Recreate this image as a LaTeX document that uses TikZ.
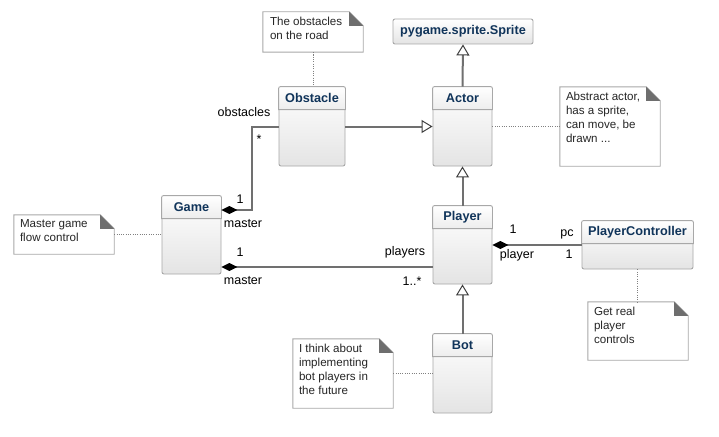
\documentclass[tikz,border=0pt]{standalone}
\usepackage{fontspec}
\setmainfont{Liberation Sans}
\usetikzlibrary{arrows.meta,calc}
\definecolor{clsborder}{HTML}{A8A8A8}
\definecolor{clsbottom}{HTML}{E4E4E4}
\definecolor{hdrbottom}{HTML}{EDEDED}
\definecolor{titlecol}{HTML}{10345A}
\definecolor{conncol}{HTML}{707070}
\definecolor{notebord}{HTML}{A8A8A8}
\definecolor{foldcol}{HTML}{6E6E6E}
\definecolor{dotcol}{HTML}{808080}
\tikzset{
  cls/.style={draw=clsborder, line width=0.9pt, rounded corners=2pt, top color=white, bottom color=clsbottom, inner sep=0pt},
  clstitle/.style={font=\fontsize{12.7}{14}\selectfont\bfseries, text=titlecol, inner sep=0pt},
  notebody/.style={inner sep=0pt},
  notetext/.style={font=\fontsize{11.6}{14}\selectfont, align=left, inner sep=0pt, anchor=north west, text=black!85},
  lbl/.style={font=\fontsize{12.5}{14}\selectfont, inner sep=0pt},
  conn/.style={draw=conncol, line width=2pt},
  gen/.style={conn, -{Triangle[length=11pt, width=13pt, line width=1pt, color=black!75, fill=white]}},
  comp/.style={conn, {Diamond[length=16pt, width=8pt, color=black]}-},
  notelink/.style={draw=dotcol, line width=1pt, dash pattern=on 1pt off 1.3pt},
}
\newcommand\umlclass[6]{%
  \node[cls, minimum width=#4pt, minimum height=#5pt] (#1) at (#2,#3) {};
  \path[draw=clsborder, line width=0.9pt, top color=white, bottom color=hdrbottom]
    ([yshift=-23pt]#1.north west) {[rounded corners=2pt] -- (#1.north west) -- (#1.north east)} -- ([yshift=-23pt]#1.north east) -- cycle;
  \node[clstitle] (#1-t) at ([yshift=-11.5pt]#1.north) {#6};
}
\newcommand\umlnote[1]{%
  \draw[draw=notebord, line width=0.9pt, fill=white]
    (#1.north west) -- ([xshift=-14pt]#1.north east) -- ([yshift=-14pt]#1.north east) -- (#1.south east) -- (#1.south west) -- cycle;
  \fill[foldcol] ([xshift=-14pt]#1.north east) -- ([yshift=-14pt]#1.north east) -- ([xshift=-14pt,yshift=-14pt]#1.north east) -- cycle;
}
\begin{document}
\begin{tikzpicture}[x=1pt,y=-1pt]
\useasboundingbox[fill=white] (0,0) rectangle (719,436);

% classes
\node[cls, minimum width=140pt, minimum height=25pt] (sprite) at (463,31.5) {};
\node[clstitle] (sprite-t) at (sprite) {pygame.sprite.Sprite};
\umlclass{obstacle}{312}{126.5}{66}{79}{Obstacle}
\umlclass{actor}{462.5}{126.5}{59}{79}{Actor}
\umlclass{game}{191.5}{235}{59}{78}{Game}
\umlclass{player}{462.5}{245}{59}{78}{Player}
\umlclass{bot}{462.5}{373.5}{59}{79}{Bot}
\umlclass{pc}{637.5}{245}{111}{48}{PlayerController}

% notes
\node[notebody, minimum width=100pt, minimum height=40pt] (onote) at (313,32) {};
\node[notebody, minimum width=100pt, minimum height=39pt] (gnote) at (64,234.5) {};
\node[notebody, minimum width=100pt, minimum height=79pt] (anote) at (610,126.5) {};
\node[notebody, minimum width=100pt, minimum height=58pt] (pcnote) at (638,331) {};
\node[notebody, minimum width=100pt, minimum height=69pt] (bnote) at (343,373.5) {};
\umlnote{onote}
\umlnote{gnote}
\umlnote{anote}
\umlnote{pcnote}
\umlnote{bnote}
\node[notetext] (onote-t) at ([xshift=7pt,yshift=-5pt]onote.north west) {The obstacles\\on the road};
\node[notetext] (gnote-t) at ([xshift=6pt,yshift=-5pt]gnote.north west) {Master game\\flow control};
\node[notetext] (anote-t) at ([xshift=6pt,yshift=-5pt]anote.north west) {Abstract actor,\\has a sprite,\\can move, be\\drawn ...};
\node[notetext] (pcnote-t) at ([xshift=6pt,yshift=-5pt]pcnote.north west) {Get real\\player\\controls};
\node[notetext] (bnote-t) at ([xshift=6pt,yshift=-5pt]bnote.north west) {I think about\\implementing\\bot players in\\the future};

% note links
\draw[notelink] (onote.south) -- (onote.south |- obstacle.north);
\draw[notelink] (gnote.east) -- (gnote.east -| game.west);
\draw[notelink] (actor.east) -- (anote.west);
\draw[notelink] (pc.south) -- (pc.south |- pcnote.north);
\draw[notelink] (bnote.east) -- (bnote.east -| bot.west);

% generalizations
\draw[gen] (obstacle.east) -- (actor.west);
\draw[gen] (actor.north) -- (sprite.south);
\draw[gen] (player.north) -- (actor.south);
\draw[gen] (bot.north) -- (player.south);

% compositions
\draw[comp] ([yshift=25pt]game.east) -| ([xshift=-27pt]obstacle.west) -- (obstacle.west);
\draw[comp] ([yshift=-32pt]game.east) -- ([yshift=-32pt]game.east -| player.west);
\draw[comp] (player.east) -- (pc.west);

% labels
\node[lbl] (l-obs) at (244,112) {obstacles};
\node[lbl] (l-star) at (259,139) {*};
\node[lbl] (l-g1) at (240,199) {1};
\node[lbl] (l-gm1) at (243,224) {master};
\node[lbl] (l-g2) at (240,252) {1};
\node[lbl] (l-gm2) at (243,281) {master};
\node[lbl] (l-pls) at (405,252) {players};
\node[lbl] (l-pmul) at (412,281) {1..*};
\node[lbl] (l-p1) at (513,229) {1};
\node[lbl] (l-pl) at (517,255) {player};
\node[lbl] (l-pc) at (567,234) {pc};
\node[lbl] (l-pc1) at (569,254) {1};
\end{tikzpicture}
\end{document}
